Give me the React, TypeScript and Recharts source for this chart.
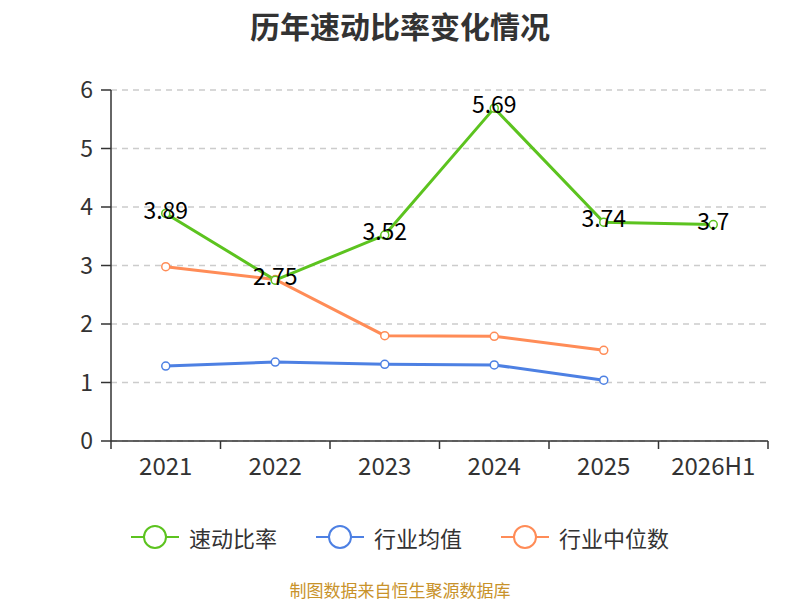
import { LineChart, Line, XAxis, YAxis, CartesianGrid, LabelList } from "recharts";

const years = ["2021", "2022", "2023", "2024", "2025", "2026H1"];
const quickRatio = [3.89, 2.75, 3.52, 5.69, 3.74, 3.7];
const industryAvg = [1.28, 1.35, 1.31, 1.3, 1.04, null];
const industryMedian = [2.98, 2.76, 1.8, 1.79, 1.55, null];
const yTicks = [0, 1, 2, 3, 4, 5, 6];

const data = years.map((year, i) => ({
  year,
  quick: quickRatio[i],
  avg: industryAvg[i],
  median: industryMedian[i],
}));

const GREEN = "#5cc31f";
const BLUE = "#4d80e3";
const ORANGE = "#ff8c57";
const FONT = "'Noto Sans CJK SC', 'Noto Sans', sans-serif";

// plot box
const W = 800;
const H = 600;
const LEFT = 111;
const RIGHT = 32;
const TOP = 90;
const BOTTOM = 159;
const BAND = (W - LEFT - RIGHT) / years.length;

const XTick = (props: any) => {
  const { x, y, payload, index } = props;
  return (
    <g>
      <line x1={x - BAND / 2} x2={x - BAND / 2} y1={y} y2={y + 8} stroke="#333" strokeWidth={1.5} />
      {index === years.length - 1 && (
        <line x1={x + BAND / 2} x2={x + BAND / 2} y1={y} y2={y + 8} stroke="#333" strokeWidth={1.5} />
      )}
      <text x={x} y={y + 23} textAnchor="middle" dominantBaseline="central" fill="#333" fontSize={24} fontFamily={FONT}>
        {payload.value}
      </text>
    </g>
  );
};

const legendItems = [
  { name: "速动比率", color: GREEN },
  { name: "行业均值", color: BLUE },
  { name: "行业中位数", color: ORANGE },
];

const dot = { r: 4, fill: "#fff", strokeWidth: 1.5 };

export default function App() {
  return (
    <div style={{ position: "absolute", left: 0, top: 0, width: W, height: H, background: "#fff", fontFamily: FONT }}>
      <div style={{ position: "absolute", top: 3, width: W, textAlign: "center", fontSize: 30, fontWeight: "bold", color: "#333" }}>
        历年速动比率变化情况
      </div>
      <LineChart width={W} height={H} data={data} margin={{ top: TOP, right: RIGHT, left: 0, bottom: BOTTOM - 40 }}>
        <CartesianGrid vertical={false} stroke="#ccc" strokeDasharray="6 5" strokeWidth={1.5} />
        <XAxis
          dataKey="year"
          height={40}
          padding={{ left: BAND / 2, right: BAND / 2 }}
          axisLine={{ stroke: "#333", strokeWidth: 1.5 }}
          tickLine={false}
          tickSize={0}
          tickMargin={0}
          tick={<XTick />}
          interval={0}
        />
        <YAxis
          width={LEFT}
          domain={[0, 6]}
          ticks={yTicks}
          axisLine={{ stroke: "#333", strokeWidth: 1.5 }}
          tickLine={{ stroke: "#333", strokeWidth: 1.5 }}
          tickSize={10}
          tickMargin={8}
          tick={{ fill: "#333", fontSize: 23, fontFamily: FONT }}
        />
        <Line dataKey="avg" stroke={BLUE} strokeWidth={3} dot={{ ...dot, stroke: BLUE }} isAnimationActive={false} />
        <Line dataKey="median" stroke={ORANGE} strokeWidth={3} dot={{ ...dot, stroke: ORANGE }} isAnimationActive={false} />
        <Line dataKey="quick" stroke={GREEN} strokeWidth={3} dot={{ ...dot, stroke: GREEN }} isAnimationActive={false}>
          <LabelList dataKey="quick" position="center" dy={-3} fill="#000" fontSize={23} fontFamily={FONT} />
        </Line>
      </LineChart>
      <div style={{ position: "absolute", top: 520, width: W, display: "flex", justifyContent: "center", gap: 39, color: "#333", fontSize: 22 }}>
        {legendItems.map((it) => (
          <div key={it.name} style={{ display: "flex", alignItems: "center" }}>
            <svg width={48} height={34} style={{ marginRight: 10 }}>
              <line x1={0} x2={48} y1={17} y2={17} stroke={it.color} strokeWidth={2} />
              <circle cx={24} cy={17} r={11} fill="#fff" stroke={it.color} strokeWidth={2} />
            </svg>
            <span>{it.name}</span>
          </div>
        ))}
      </div>
      <div style={{ position: "absolute", top: 580, width: W, textAlign: "center", fontSize: 17, lineHeight: "20px", color: "#c8922a" }}>
        制图数据来自恒生聚源数据库
      </div>
    </div>
  );
}
